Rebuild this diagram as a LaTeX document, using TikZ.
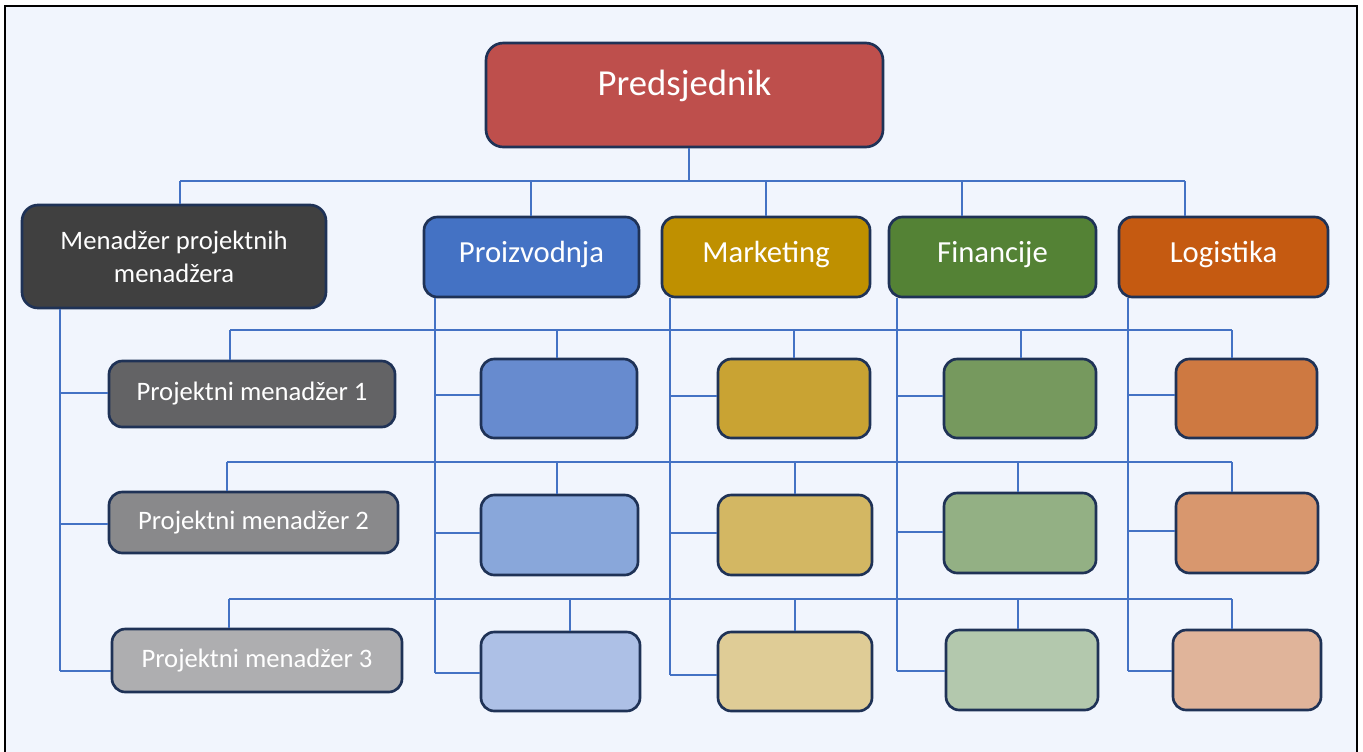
\documentclass[tikz,border=0pt]{standalone}
\usepackage{fontspec}
\setmainfont{Carlito}
\definecolor{bgc}{HTML}{F1F5FD}
\definecolor{boxline}{HTML}{1F3256}
\definecolor{connc}{HTML}{4472C4}
\definecolor{cPres}{HTML}{BE4F4C}
\definecolor{cMgr}{HTML}{404040}
\definecolor{cPM1}{HTML}{636365}
\definecolor{cPM2}{HTML}{89898B}
\definecolor{cPM3}{HTML}{AEAEB0}
\definecolor{cProd}{HTML}{4472C4}
\definecolor{cProd1}{HTML}{678BCF}
\definecolor{cProd2}{HTML}{89A7DA}
\definecolor{cProd3}{HTML}{ADC0E6}
\definecolor{cMark}{HTML}{BF9000}
\definecolor{cMark1}{HTML}{C9A333}
\definecolor{cMark2}{HTML}{D3B763}
\definecolor{cMark3}{HTML}{DFCC96}
\definecolor{cFin}{HTML}{548235}
\definecolor{cFin1}{HTML}{76995E}
\definecolor{cFin2}{HTML}{93B084}
\definecolor{cFin3}{HTML}{B3C8AD}
\definecolor{cLog}{HTML}{C55A11}
\definecolor{cLog1}{HTML}{CE7941}
\definecolor{cLog2}{HTML}{D8976E}
\definecolor{cLog3}{HTML}{E0B49A}
\begin{document}
\begin{tikzpicture}[x=0.75pt,y=-0.75pt,
  box/.style={draw=boxline, line width=2pt, rounded corners=10pt, text=white, inner sep=0pt, align=center},
  sz/.style n args={2}{minimum width=#1*0.75pt, minimum height=#2*0.75pt},
  conn/.style={draw=connc, line width=0.9pt},
  presfont/.style={font=\fontsize{27.5}{33}\selectfont, text height=0pt, text depth=0pt},
  deptfont/.style={font=\fontsize{23}{28}\selectfont, text height=12pt, text depth=4.5pt},
  pmfont/.style={font=\fontsize{20}{25}\selectfont}]
\useasboundingbox (0,0) rectangle (1363,751);
\fill[white] (0,0) rectangle (1363,751);
\draw[line width=2.2pt, fill=bgc] (5,6) rectangle (1357,775);

% top level
\node[box, presfont, rounded corners=13pt, fill=cPres, sz={397}{104}] (pres) at (684.5,95) {Predsjednik};
\node[box, pmfont, rounded corners=12pt, fill=cMgr, sz={304}{103}] (mgr) at (174,256.5) {Menadžer projektnih\\menadžera};
\node[box, deptfont, fill=cProd, sz={215}{80}] (prod) at (531.5,257) {Proizvodnja};
\node[box, deptfont, fill=cMark, sz={208}{80}] (mark) at (766,257) {Marketing};
\node[box, deptfont, fill=cFin, sz={207}{80}] (fin) at (992.5,257) {Financije};
\node[box, deptfont, fill=cLog, sz={209}{80}] (logi) at (1223.5,257) {Logistika};

% row 1
\node[box, pmfont, fill=cPM1, sz={286}{66}] (pm1) at (252,394) {Projektni menadžer 1};
\node[box, fill=cProd1, sz={156}{79}] (p1) at (559,398.5) {};
\node[box, fill=cMark1, sz={152}{79}] (m1) at (794,398.5) {};
\node[box, fill=cFin1, sz={152}{79}] (f1) at (1020,398.5) {};
\node[box, fill=cLog1, sz={141}{79}] (l1) at (1246.5,398.5) {};
% row 2
\node[box, pmfont, fill=cPM2, sz={289}{61}] (pm2) at (253.5,522.5) {Projektni menadžer 2};
\node[box, fill=cProd2, sz={157}{80}] (p2) at (559.5,535) {};
\node[box, fill=cMark2, sz={154}{80}] (m2) at (795,535) {};
\node[box, fill=cFin2, sz={152}{80}] (f2) at (1020,533) {};
\node[box, fill=cLog2, sz={142}{80}] (l2) at (1247,533) {};
% row 3
\node[box, pmfont, fill=cPM3, sz={290}{63}] (pm3) at (257,660.5) {Projektni menadžer 3};
\node[box, fill=cProd3, sz={159}{79}] (p3) at (560.5,671.5) {};
\node[box, fill=cMark3, sz={154}{79}] (m3) at (795,671.5) {};
\node[box, fill=cFin3, sz={152}{80}] (f3) at (1022,670) {};
\node[box, fill=cLog3, sz={148}{80}] (l3) at (1247,670) {};

% top bus
\coordinate (tb) at (689,181);
\coordinate (tM) at (180,181);
\coordinate (tP) at (531,181);
\coordinate (tK) at (766,181);
\coordinate (tF) at (962,181);
\coordinate (tL) at (1185,181);
\draw[conn] (pres.south -| tb) -- (tb);
\draw[conn] (tM) -- (tL);
\draw[conn] (tM) -- (tM |- mgr.north);
\draw[conn] (tP) -- (tP |- prod.north);
\draw[conn] (tK) -- (tK |- mark.north);
\draw[conn] (tF) -- (tF |- fin.north);
\draw[conn] (tL) -- (tL |- logi.north);

% row buses
\foreach \r/\y/\xa/\xb/\xc/\xd/\xe/\na/\nb/\nc/\nd/\ne in {
  1/330/230/557/794/1021/1232/pm1/p1/m1/f1/l1,
  2/462/227/557/795/1018/1232/pm2/p2/m2/f2/l2,
  3/599/229/570/795/1018/1232/pm3/p3/m3/f3/l3}{
  \coordinate (b\r a) at (\xa,\y);
  \coordinate (b\r b) at (\xb,\y);
  \coordinate (b\r c) at (\xc,\y);
  \coordinate (b\r d) at (\xd,\y);
  \coordinate (b\r e) at (\xe,\y);
  \draw[conn] (b\r a) -- (b\r e);
  \draw[conn] (b\r a) -- (b\r a |- \na.north);
  \draw[conn] (b\r b) -- (b\r b |- \nb.north);
  \draw[conn] (b\r c) -- (b\r c |- \nc.north);
  \draw[conn] (b\r d) -- (b\r d |- \nd.north);
  \draw[conn] (b\r e) -- (b\r e |- \ne.north);
}

% spines
\foreach \nm/\x/\ya/\yb/\yc/\ra/\rb/\rc in {
  mgr/60/393/524/671/pm1/pm2/pm3,
  prod/435/395/533/673/p1/p2/p3,
  mark/670/396/533/675/m1/m2/m3,
  fin/897/396/532/671/f1/f2/f3,
  logi/1128/395/531/671/l1/l2/l3}{
  \coordinate (\nm-s1) at (\x,\ya);
  \coordinate (\nm-s2) at (\x,\yb);
  \coordinate (\nm-s3) at (\x,\yc);
  \draw[conn] (\nm.south -| \nm-s1) -- (\nm-s3);
  \draw[conn] (\nm-s1) -- (\nm-s1 -| \ra.west);
  \draw[conn] (\nm-s2) -- (\nm-s2 -| \rb.west);
  \draw[conn] (\nm-s3) -- (\nm-s3 -| \rc.west);
}
\end{tikzpicture}
\end{document}
